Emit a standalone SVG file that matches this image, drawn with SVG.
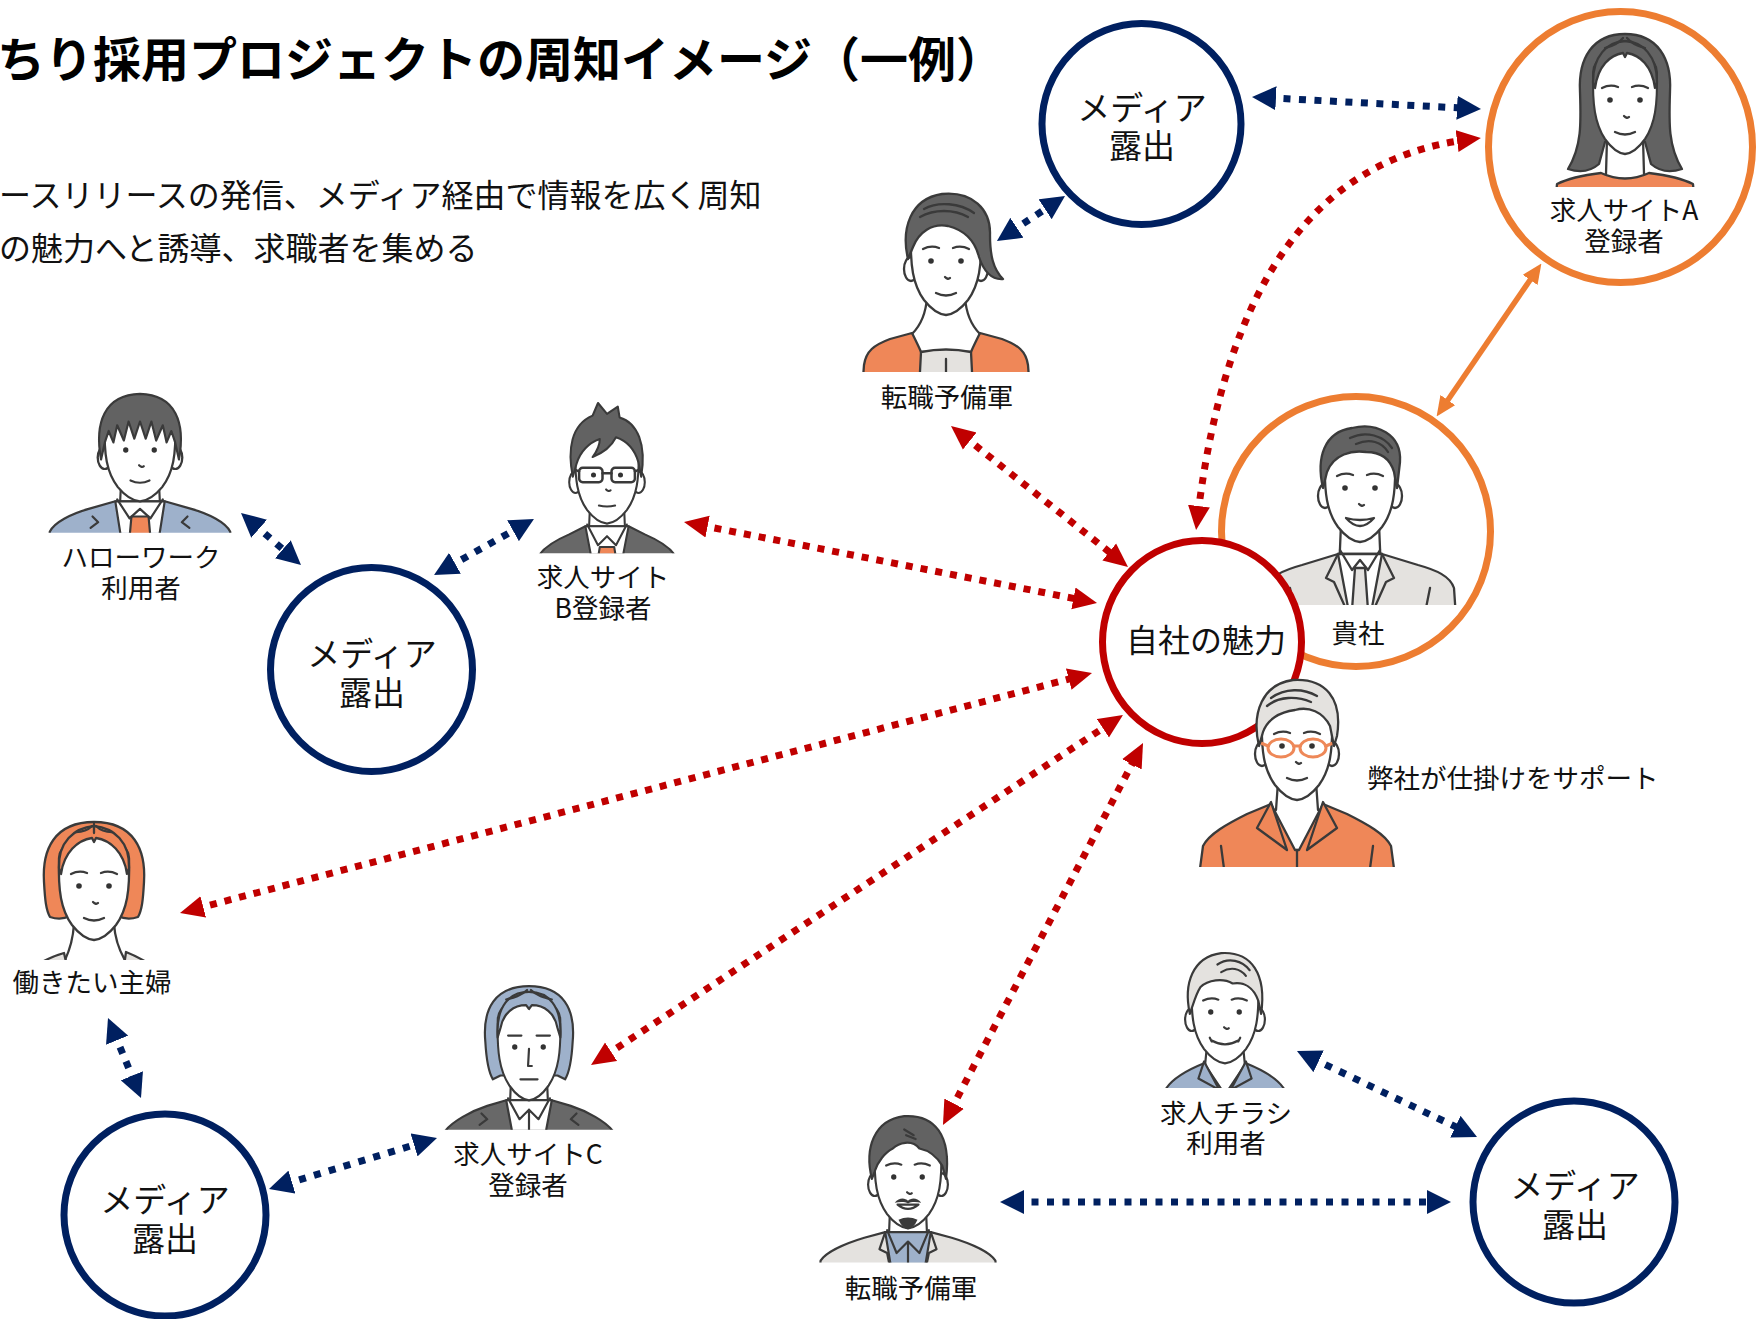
<svg xmlns="http://www.w3.org/2000/svg" width="1758" height="1319" viewBox="0 0 1758 1319">
<style>
  text { font-family: "Noto Sans CJK JP", "Noto Sans", sans-serif; fill: #111; }
  .ttl { font-size: 48px; font-weight: 700; fill: #000; }
  .sub { font-size: 32px; }
  .lbl { font-size: 26.5px; text-anchor: middle; }
  .big { font-size: 33px; text-anchor: middle; }
  .core-t { font-size: 32px; text-anchor: middle; }
  .media { fill: #fff; stroke: #002060; stroke-width: 7; }
  .ring { fill: #fff; stroke: #ED7D31; stroke-width: 7; }
  .core { fill: #fff; stroke: #C00000; stroke-width: 7; }
  .nv { fill: none; stroke: #002060; stroke-width: 7; stroke-dasharray: 7 8.5; marker-start: url(#an); marker-end: url(#an); }
  .rd { fill: none; stroke: #C00000; stroke-width: 7; stroke-dasharray: 7 8; marker-start: url(#ar); marker-end: url(#ar); }
  .og { fill: none; stroke: #ED7D31; stroke-width: 5.5; marker-start: url(#ao); marker-end: url(#ao); }
  .ln { stroke: #3a3a3a; stroke-width: 2.3; stroke-linejoin: round; stroke-linecap: round; }
  .nf { fill: none; }
  .sk { fill: #fff; }
  .hd { fill: #626262; }
  .hl { fill: #E4E2DF; }
  .bl { fill: #9EB1CB; }
  .or { fill: #EF8758; }
  .dg { fill: #686868; }
  .ey { fill: #333; }
  .gl { fill: none; stroke: #EE8858; stroke-width: 3; }
</style>
<defs>
  <marker id="an" viewBox="0 0 24 24" refX="8" refY="12" markerWidth="24" markerHeight="24" markerUnits="userSpaceOnUse" orient="auto-start-reverse">
    <path d="M0,0 L24,12 L0,24 Z" fill="#002060"/>
  </marker>
  <marker id="ar" viewBox="0 0 24 24" refX="8" refY="12" markerWidth="24" markerHeight="24" markerUnits="userSpaceOnUse" orient="auto-start-reverse">
    <path d="M0,1 L24,12 L0,23 Z" fill="#C00000"/>
  </marker>
  <marker id="ao" viewBox="0 0 20 18" refX="6" refY="9" markerWidth="20" markerHeight="18" markerUnits="userSpaceOnUse" orient="auto-start-reverse">
    <path d="M0,0 L20,9 L0,18 Z" fill="#ED7D31"/>
  </marker>

  <!-- shared head parts, eye line at y=0 -->
  <g id="ears">
    <ellipse class="ln sk" cx="-35" cy="8" rx="7" ry="12"/>
    <ellipse class="ln sk" cx="35" cy="8" rx="7" ry="12"/>
  </g>
  <path id="fc" class="ln sk" d="M-35,-28 C-36,5 -33,24 -22,39 Q-11,53 0,54 Q11,53 22,39 C33,24 36,5 35,-28 C34,-56 -34,-56 -35,-28 Z"/>
  <g id="eyes" class="ey"><circle cx="-15" cy="0" r="2.8"/><circle cx="15" cy="0" r="2.8"/></g>
  <path id="brows" class="ln nf" d="M-23,-12 Q-15,-16 -7,-13 M7,-13 Q15,-16 23,-12"/>
  <path id="nose" class="ln nf" d="M-1,16 Q2,19 4,17"/>
  <path id="smile" class="ln nf" d="M-10,32 Q0,37 10,32"/>
  <g id="neck">
    <path class="sk" d="M-19,36 L-21,100 L21,100 L19,36 Z"/>
    <path class="ln nf" d="M-19,36 L-21,84 M19,36 L21,84"/>
  </g>

  <clipPath id="c74"><rect x="-150" y="-200" width="300" height="274"/></clipPath>
  <clipPath id="c80"><rect x="-150" y="-200" width="300" height="280"/></clipPath>
  <clipPath id="c87"><rect x="-150" y="-200" width="300" height="287"/></clipPath>
  <clipPath id="c90"><rect x="-150" y="-200" width="300" height="290"/></clipPath>
  <clipPath id="c111"><rect x="-150" y="-200" width="300" height="311"/></clipPath>
  <clipPath id="c117"><rect x="-150" y="-200" width="300" height="317"/></clipPath>
  <clipPath id="c121"><rect x="-150" y="-200" width="300" height="321"/></clipPath>
</defs>

<rect width="1758" height="1319" fill="#fff"/>

<!-- heading -->
<g id="header">
  <text class="ttl" x="-3" y="77">ちり採用プロジェクトの周知イメージ（一例）</text>
  <text class="sub" x="-1" y="207">ースリリースの発信、メディア経由で情報を広く周知</text>
  <text class="sub" x="-1" y="260">の魅力へと誘導、求職者を集める</text>
</g>

<!-- connectors -->
<g id="connectors">
  <path class="nv" d="M1268,97.8 L1465,108.2"/>
  <path class="nv" d="M1010.3,232.2 L1051.7,204.8"/>
  <path class="nv" d="M253.1,523.5 L288.9,554.5"/>
  <path class="nv" d="M448,567.2 L520,526.8"/>
  <path class="nv" d="M114.1,1032.8 L134.9,1083.2"/>
  <path class="nv" d="M284.3,1184.4 L421.7,1142.6"/>
  <path class="nv" d="M1311.4,1057.9 L1462.6,1130.1"/>
  <path class="nv" d="M1016,1202 L1435,1202"/>

  <path class="rd" d="M1198,514 Q1240,170 1465,140"/>
  <path class="rd" d="M963.5,436 L1115.5,557"/>
  <path class="rd" d="M699.7,525.1 L1081.3,599.9"/>
  <path class="rd" d="M195.5,908.9 L1076.5,677.1"/>
  <path class="rd" d="M604.4,1056.2 L1109.6,723.8"/>
  <path class="rd" d="M950.4,1110.8 L1135.6,757.2"/>

  <path class="og" d="M1444.5,405 L1533.5,275"/>
</g>

<!-- media exposure nodes -->
<g id="media-top">
  <ellipse class="media" cx="1141.5" cy="124" rx="99.5" ry="100.5"/>
  <text class="big" x="1142" y="120">メディア</text>
  <text class="big" x="1142" y="158">露出</text>
</g>
<g id="media-left">
  <ellipse class="media" cx="371.5" cy="669.5" rx="101" ry="102"/>
  <text class="big" x="372" y="666">メディア</text>
  <text class="big" x="372" y="705">露出</text>
</g>
<g id="media-bottom-left">
  <ellipse class="media" cx="165" cy="1215" rx="101" ry="101"/>
  <text class="big" x="165" y="1212">メディア</text>
  <text class="big" x="165" y="1251">露出</text>
</g>
<g id="media-bottom-right">
  <ellipse class="media" cx="1574" cy="1202" rx="101" ry="101"/>
  <text class="big" x="1575" y="1198">メディア</text>
  <text class="big" x="1575" y="1237">露出</text>
</g>

<!-- job site A registrant -->
<g id="site-a">
  <ellipse class="ring" cx="1620.5" cy="147" rx="132" ry="135.5"/>
  <g transform="translate(1625,100)">
    <g clip-path="url(#c87)">
      <path class="ln hd" d="M0,-66 C-32,-66 -47,-42 -45,-8 C-44,22 -43,46 -57,69 C-45,73 -34,71 -26,64 L-20,42 L20,42 L26,64 C34,71 45,73 57,69 C43,46 44,22 45,-8 C47,-42 32,-66 0,-66 Z"/>
      <path class="sk" d="M-18,36 L-19,90 L19,90 L18,36 Z"/>
      <path class="ln nf" d="M-18,38 L-19,74 M18,38 L19,74"/>
      <path class="ln or" d="M-72,130 L-68,84 C-56,78 -40,75 -24,73 Q0,84 24,73 C40,75 56,78 68,84 L72,130 Z"/>
      <g transform="scale(0.91,1)"><use href="#fc"/></g>
      <path class="ln hd" d="M-32,-18 C-32,-44 -18,-58 0,-59 C18,-58 32,-44 32,-18 L30,-12 C27,-34 15,-45 2,-47 L0,-43 L-2,-47 C-15,-45 -27,-34 -30,-12 Z"/>
      <path class="ln nf" d="M-2,-62 C-6,-57 -12,-54 -20,-52 M2,-62 C6,-57 12,-54 20,-52"/>
      <use href="#eyes"/><use href="#brows"/><use href="#nose"/><use href="#smile"/>
    </g>
  </g>
  <text class="lbl" x="1624" y="220">求人サイトA</text>
  <text class="lbl" x="1624" y="251">登録者</text>
</g>

<!-- job-change candidate (top) -->
<g id="candidate-top">
  <g transform="translate(946,261)">
    <g clip-path="url(#c111)">
      <path class="sk" d="M-19,36 L-34,74 L-25,96 L25,96 L34,74 L19,36 Z"/>
      <path class="ln nf" d="M-19,36 C-20,52 -25,64 -34,73 M19,36 C20,52 25,64 34,73"/>
      <path class="ln or" d="M-84,130 L-82,104 C-80,90 -72,84 -56,78 L-34,72 C-30,80 -27,86 -25,91 L25,91 C27,86 30,80 34,72 L56,78 C72,84 80,90 82,104 L84,130 Z"/>
      <path class="ln hl" d="M-25,91 Q0,86 25,91 L27,130 L-27,130 Z"/>
      <path class="ln nf" d="M0,98 L0,130"/>
      <use href="#ears"/><use href="#fc"/>
      <use href="#eyes"/><use href="#brows"/><use href="#nose"/><use href="#smile"/>
      <path class="ln hd" d="M-38,-2 C-45,-32 -36,-62 -4,-67 C26,-70 45,-52 44,-26 C44,-6 47,8 57,18 C44,19 37,8 33,-4 C29,-20 18,-31 2,-35 C-14,-38 -27,-29 -33,-14 Z"/>
      <path class="ln nf" d="M-22,-52 C-8,-60 14,-58 28,-48 M-26,-44 C-12,-52 8,-52 22,-44"/>
    </g>
  </g>
  <text class="lbl" x="947" y="407">転職予備軍</text>
</g>

<!-- Hello Work user -->
<g id="hellowork-user">
  <g transform="translate(140,450) scale(0.95)">
    <g clip-path="url(#c87)">
      <path class="sk" d="M-20,36 L-21,62 L21,62 L20,36 Z"/>
      <path class="ln nf" d="M-20,36 L-21,56 M20,36 L21,56"/>
      <path class="ln bl" d="M-98,130 L-95,86 C-90,76 -72,67 -54,62 L-26,54 L26,54 L54,62 C72,67 90,76 95,86 L98,130 Z"/>
      <path class="ln sk" d="M-26,54 L26,54 L14,130 L-14,130 Z"/>
      <path class="ln or" d="M-9,70 L9,70 L11,92 L-11,92 Z"/>
      <path class="ln nf" d="M-24,52 L-11,72 L0,62 L11,72 L24,52"/>
      <path class="ln nf" d="M-50,70 L-44,76 L-52,82 M50,70 L44,76 L52,82"/>
      <g transform="scale(1.06,1)"><use href="#ears"/><use href="#fc"/></g>
      <use href="#eyes"/><use href="#nose"/><use href="#smile"/>
      <path class="ln hd" d="M-41,10 C-48,-28 -38,-58 0,-59 C38,-58 48,-28 41,10 L37,-8 L33,-20 L28,-8 L24,-26 L17,-10 L12,-30 L6,-12 L0,-30 L-6,-12 L-12,-30 L-17,-10 L-24,-26 L-28,-8 L-33,-20 L-37,-8 Z"/>
    </g>
  </g>
  <text class="lbl" x="141" y="567">ハローワーク</text>
  <text class="lbl" x="141" y="598">利用者</text>
</g>

<!-- job site B registrant -->
<g id="site-b">
  <g transform="translate(607,475) scale(0.9)">
    <g clip-path="url(#c87)">
      <path class="sk" d="M-19,36 L-20,64 L20,64 L19,36 Z"/>
      <path class="ln nf" d="M-19,36 L-20,60 M19,36 L20,60"/>
      <path class="ln dg" d="M-82,130 L-76,90 C-70,80 -56,72 -42,66 L-24,57 L24,57 L42,66 C56,72 70,80 76,90 L82,130 Z"/>
      <path class="ln sk" d="M-24,57 L24,57 L10,130 L-10,130 Z"/>
      <path class="ln or" d="M-8,80 L8,80 L10,92 L-10,92 Z"/>
      <path class="ln nf" d="M-22,55 L-10,78 L0,68 L10,78 L22,55"/>
      <use href="#ears"/><use href="#fc"/>
      <use href="#eyes"/><use href="#nose"/>
      <path class="ln nf" d="M-9,34 Q0,36 9,34"/>
      <g class="ln nf" style="stroke-width:2.8"><rect x="-31" y="-8" width="26" height="16" rx="4"/><rect x="5" y="-8" width="26" height="16" rx="4"/><path d="M-5,-2 L5,-2 M-31,-4 L-36,-6 M31,-4 L36,-6"/></g>
      <path class="ln hd" d="M-38,2 C-44,-28 -40,-56 -16,-66 L-10,-80 L0,-68 L12,-76 L14,-64 C34,-58 44,-34 38,2 L35,-14 C31,-28 22,-38 10,-42 C4,-30 -6,-24 -16,-20 C-10,-28 -8,-34 -8,-40 C-20,-36 -30,-26 -34,-12 Z"/>
    </g>
  </g>
  <text class="lbl" x="603" y="587">求人サイト</text>
  <text class="lbl" x="603" y="618">B登録者</text>
</g>

<!-- your company -->
<g id="client">
  <ellipse class="ring" cx="1356" cy="531.5" rx="134.5" ry="135"/>
  <g transform="translate(1360,488)">
    <g clip-path="url(#c117)">
      <use href="#neck"/>
      <path class="ln hl" d="M-98,130 L-94,100 C-90,88 -76,82 -58,77 L-22,66 L22,66 L58,77 C76,82 90,88 94,100 L96,130 Z"/>
      <path class="ln sk" d="M-22,66 L22,66 L10,130 L-10,130 Z"/>
      <path class="ln hl" d="M-5,80 L5,80 L8,122 L0,130 L-8,122 Z"/>
      <path class="ln nf" d="M-20,62 L-8,82 L0,72 L8,82 L20,62"/>
      <path class="ln nf" d="M-22,66 L-34,90 L-26,94 L-10,130 M22,66 L34,90 L26,94 L10,130 M-70,100 L-64,130 M70,100 L64,130"/>
      <use href="#ears"/><use href="#fc"/>
      <use href="#eyes"/><use href="#brows"/><use href="#nose"/>
      <path class="ln sk" d="M-14,30 Q0,46 14,30 Q0,34 -14,30 Z"/>
      <path class="ln hd" d="M-37,0 C-44,-30 -36,-56 -8,-60 C16,-66 42,-54 40,-26 L37,0 L34,-16 C30,-30 20,-36 6,-36 C-8,-38 -26,-34 -33,-16 Z"/>
      <path class="ln nf" d="M-10,-50 C6,-58 24,-52 32,-40 M-4,-44 C10,-50 22,-46 28,-36"/>
    </g>
  </g>
  <text class="lbl" x="1358" y="643">貴社</text>
</g>

<!-- core appeal -->
<g id="core-appeal">
  <ellipse class="core" cx="1202" cy="642" rx="99.5" ry="101.5"/>
  <text class="core-t" x="1206" y="652">自社の魅力</text>
</g>

<!-- our support -->
<g id="support">
  <g transform="translate(1297,746)">
    <g clip-path="url(#c121)">
      <path class="sk" d="M-19,36 L-21,110 L21,110 L19,36 Z"/>
      <path class="ln nf" d="M-19,36 L-21,64 M19,36 L21,64"/>
      <path class="ln or" d="M-98,130 L-94,100 C-88,88 -70,78 -50,68 L-26,58 L-2,104 L2,104 L26,58 L50,68 C70,78 88,88 94,100 L98,130 Z"/>
      <path class="ln or" d="M-26,56 L-40,82 L-10,104 Z M26,56 L40,82 L10,104 Z"/>
      <path class="ln nf" d="M0,104 L0,130 M-76,100 L-72,130 M76,100 L72,130"/>
      <use href="#ears"/><use href="#fc"/>
      <use href="#eyes"/><use href="#brows"/><use href="#nose"/><use href="#smile"/>
      <g class="gl"><ellipse cx="-16" cy="2" rx="13" ry="9"/><ellipse cx="16" cy="2" rx="13" ry="9"/><path d="M-3,0 L3,0 M-29,0 L-36,-3 M29,0 L36,-3"/></g>
      <path class="ln hl" d="M-38,0 C-46,-34 -34,-62 -4,-66 C28,-68 46,-48 40,-10 L37,0 L33,-20 C26,-34 12,-40 -2,-36 C-18,-34 -30,-26 -34,-14 Z"/>
      <path class="ln nf" d="M-26,-48 C-12,-58 6,-58 20,-50 M-30,-40 C-18,-50 0,-50 14,-44"/>
    </g>
  </g>
  <text class="lbl" x="1367" y="788" style="text-anchor:start">弊社が仕掛けをサポート</text>
</g>

<!-- homemaker -->
<g id="homemaker">
  <g transform="translate(94,886)">
    <g clip-path="url(#c74)">
      <path class="ln or" d="M0,-64 C-40,-64 -52,-36 -50,-4 C-49,14 -48,24 -44,31 C-38,33 -30,33 -24,30 L24,30 C30,33 38,33 44,31 C48,24 49,14 50,-4 C52,-36 40,-64 0,-64 Z"/>
      <path class="sk" d="M-20,36 L-30,76 L32,76 L20,36 Z"/>
      <path class="ln nf" d="M-20,38 C-21,54 -25,66 -30,76 M20,38 C21,54 26,66 32,76"/>
      <path class="ln hl" d="M-58,80 C-50,74 -40,70 -30,67 L-27,80 Z M58,80 C50,74 42,70 32,66 L30,80 Z"/>
      <use href="#fc"/>
      <path class="ln or" d="M-35,-18 C-36,-44 -20,-58 0,-60 C20,-58 36,-44 35,-18 L33,-12 C30,-34 16,-46 2,-48 L0,-44 L-2,-48 C-16,-46 -30,-34 -33,-12 Z"/>
      <path class="ln nf" d="M-2,-60 C-6,-56 -12,-54 -18,-54 M2,-60 C6,-56 12,-54 18,-54 M0,-62 L0,-53"/>
      <use href="#eyes"/><use href="#brows"/><use href="#nose"/><use href="#smile"/>
    </g>
  </g>
  <text class="lbl" x="92" y="992">働きたい主婦</text>
</g>

<!-- job site C registrant -->
<g id="site-c">
  <g transform="translate(529,1047) scale(0.95)">
    <g clip-path="url(#c87)">
      <path class="ln bl" d="M0,-64 C-36,-64 -49,-40 -46,-6 C-45,12 -43,26 -38,34 L-30,30 L30,30 L38,34 C43,26 45,12 46,-6 C49,-40 36,-64 0,-64 Z"/>
      <path class="sk" d="M-19,36 L-20,64 L20,64 L19,36 Z"/>
      <path class="ln nf" d="M-19,36 L-20,60 M19,36 L20,60"/>
      <path class="ln dg" d="M-92,130 L-88,88 C-80,78 -62,68 -44,62 L-24,56 L24,56 L44,62 C62,68 80,78 88,88 L92,130 Z"/>
      <path class="ln sk" d="M-24,56 L24,56 L10,130 L-10,130 Z"/>
      <path class="ln nf" d="M-22,54 L-10,76 L0,66 L10,76 L22,54 M0,66 L0,88 M-50,70 L-44,76 L-52,82 M50,70 L44,76 L52,82"/>
      <g transform="scale(0.94,1.04)"><use href="#fc"/></g>
      <path class="ln bl" d="M-33,-10 C-35,-44 -20,-58 0,-58 C20,-58 35,-44 33,-10 L30,-20 C27,-36 16,-44 3,-44 L0,-40 L-3,-44 C-16,-44 -27,-36 -30,-20 Z"/>
      <path class="ln nf" d="M-2,-60 C-8,-54 -16,-52 -24,-50 M2,-60 C8,-54 16,-52 24,-50"/>
      <use href="#eyes"/>
      <path class="ln nf" d="M-22,-12 L-8,-12 M8,-12 L22,-12 M0,2 L-1,20 L3,20 M-9,34 L9,34"/>
    </g>
  </g>
  <text class="lbl" x="528" y="1164">求人サイトC</text>
  <text class="lbl" x="528" y="1195">登録者</text>
</g>

<!-- job-change candidate (bottom) -->
<g id="candidate-bottom">
  <g transform="translate(908,1177) scale(0.95)">
    <g clip-path="url(#c90)">
      <use href="#neck"/>
      <path class="ln hl" d="M-96,130 L-92,88 C-86,79 -66,70 -46,64 L-24,58 L24,58 L46,64 C66,70 86,79 92,88 L96,130 Z"/>
      <path class="ln bl" d="M-24,58 L24,58 L12,130 L-12,130 Z"/>
      <path class="ln nf" d="M-22,56 L-12,80 L0,68 L12,80 L22,56 M0,68 L0,130"/>
      <path class="ln nf" d="M-24,58 L-30,76 L-22,80 L-12,130 M24,58 L30,76 L22,80 L12,130"/>
      <use href="#ears"/><use href="#fc"/>
      <use href="#eyes"/><use href="#brows"/><use href="#nose"/>
      <path class="ln sk" d="M-11,29 Q0,38 11,29 Z"/>
      <path fill="#3a3a3a" d="M-14,27 C-9,21 -3,22 0,25 C3,22 9,21 14,27 C8,26 3,26 0,28 C-3,26 -8,26 -14,27 Z"/>
      <path fill="#3a3a3a" d="M-10,45 Q0,40 10,45 Q6,54 0,55 Q-6,54 -10,45 Z"/>
      <path class="ln hd" d="M-38,2 C-46,-30 -36,-60 -4,-64 C28,-66 46,-44 40,2 L36,-12 C30,-22 22,-28 12,-30 C4,-40 -10,-36 -16,-30 C-24,-26 -32,-16 -35,-6 Z"/>
      <path class="ln nf" d="M-4,-50 L6,-44 M-2,-44 L8,-40"/>
    </g>
  </g>
  <text class="lbl" x="911" y="1298">転職予備軍</text>
</g>

<!-- job flyer reader -->
<g id="flyer-reader">
  <g transform="translate(1225,1012) scale(0.95)">
    <g clip-path="url(#c80)">
      <path class="sk" d="M-19,36 L-21,90 L21,90 L19,36 Z"/>
      <path class="ln nf" d="M-19,36 L-21,56 M19,36 L21,56"/>
      <path class="ln bl" d="M-70,130 L-64,84 C-58,72 -42,62 -22,54 L-2,84 L2,84 L22,54 C42,62 58,72 64,84 L70,130 Z"/>
      <path class="ln bl" d="M-22,52 L-28,70 L-6,82 Z M22,52 L28,70 L6,82 Z"/>
      <use href="#ears"/><use href="#fc"/>
      <use href="#eyes"/><use href="#brows"/><use href="#nose"/>
      <path class="ln nf" d="M-14,30 Q0,38 14,30 M-16,27 L-14,31 M16,27 L14,31"/>
      <path class="ln hl" d="M-37,2 C-44,-30 -34,-58 -4,-62 C28,-64 44,-40 38,2 L35,-12 C30,-26 20,-32 8,-30 C-2,-36 -18,-34 -26,-26 C-30,-20 -33,-10 -35,-4 Z"/>
      <path class="ln nf" d="M-8,-50 C4,-58 18,-54 26,-44 M-4,-42 C6,-48 16,-46 22,-38"/>
    </g>
  </g>
  <text class="lbl" x="1226" y="1123">求人チラシ</text>
  <text class="lbl" x="1226" y="1153">利用者</text>
</g>
</svg>
